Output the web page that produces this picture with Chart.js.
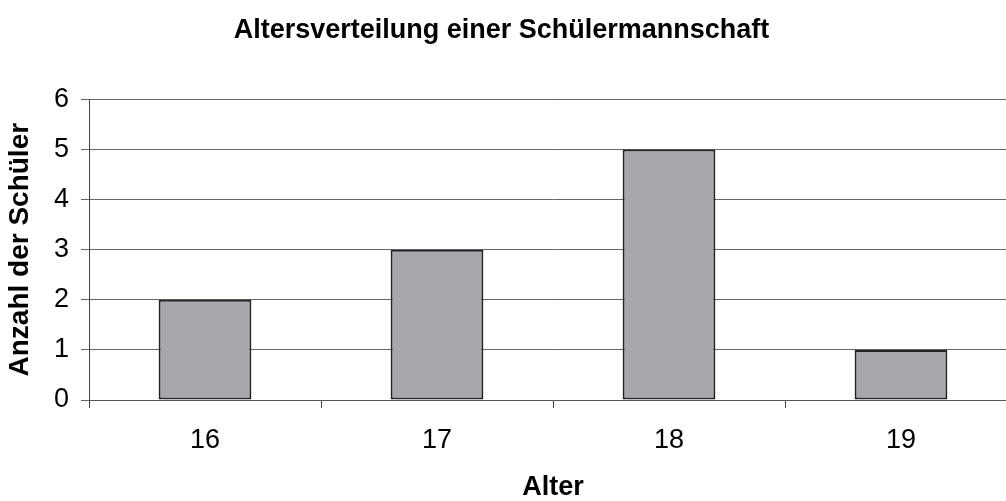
<!doctype html>
<html lang="de">
<head>
<meta charset="utf-8">
<title>Altersverteilung</title>
<script src="https://cdn.jsdelivr.net/npm/chart.js"></script>
<style>
  html, body { margin: 0; padding: 0; background: #fff; overflow: hidden; }
  /* the plot area runs ~11px past the right edge in the original,
     so the canvas is a bit wider and shifted left to keep the title centred */
  #wrap { width: 1031px; height: 501px; margin-left: -14px; }
</style>
</head>
<body>
<div id="wrap"><canvas id="myChart"></canvas></div>
<script>
// data
var ages = ['16', '17', '18', '19'];
var counts = [2, 3, 5, 1];

var ctx = document.getElementById('myChart').getContext('2d');
var myChart = new Chart(ctx, {
  type: 'bar',
  data: {
    labels: ages,
    datasets: [{
      label: 'Anzahl der Schüler',
      data: counts,
      backgroundColor: '#a7a8ac',
      borderColor: '#222',
      borderWidth: 2,
      borderSkipped: false,
      barPercentage: 0.4,
      categoryPercentage: 1.0
    }]
  },
  options: {
    responsive: true,
    maintainAspectRatio: false,
    animation: false,
    layout: { padding: 0 },
    plugins: {
      legend: { display: false },
      tooltip: { enabled: false },
      title: {
        display: true,
        text: 'Altersverteilung einer Schülermannschaft',
        color: '#000',
        font: { family: 'Liberation Sans, Arial', size: 27, weight: 'bold' },
        padding: { top: 14, bottom: 53 }
      }
    },
    scales: {
      x: {
        offset: true,
        grid: {
          offset: true,
          drawOnChartArea: false,
          drawTicks: true,
          tickLength: 8,
          color: '#444'
        },
        border: { color: '#555', width: 1 },
        ticks: {
          color: '#000',
          padding: 16,
          font: { family: 'Liberation Sans, Arial', size: 27 }
        },
        title: {
          display: true,
          text: 'Alter',
          color: '#000',
          font: { family: 'Liberation Sans, Arial', size: 27, weight: 'bold' },
          padding: { top: 0, bottom: -3 }
        },
        afterFit: function(scale) { scale.height = 101; }
      },
      y: {
        min: 0,
        max: 6,
        grid: {
          color: '#666',
          lineWidth: 1,
          tickLength: 8
        },
        border: { color: '#444', width: 1 },
        ticks: {
          stepSize: 1,
          color: '#000',
          padding: 12,
          font: { family: 'Liberation Sans, Arial', size: 27 }
        },
        title: {
          display: true,
          text: 'Anzahl der Schüler',
          color: '#000',
          font: { family: 'Liberation Sans, Arial', size: 28, weight: 'bold' },
          padding: { top: 17, bottom: 0 }
        },
        afterFit: function(scale) { scale.width = 103; }
      }
    }
  }
});
</script>
</body>
</html>
